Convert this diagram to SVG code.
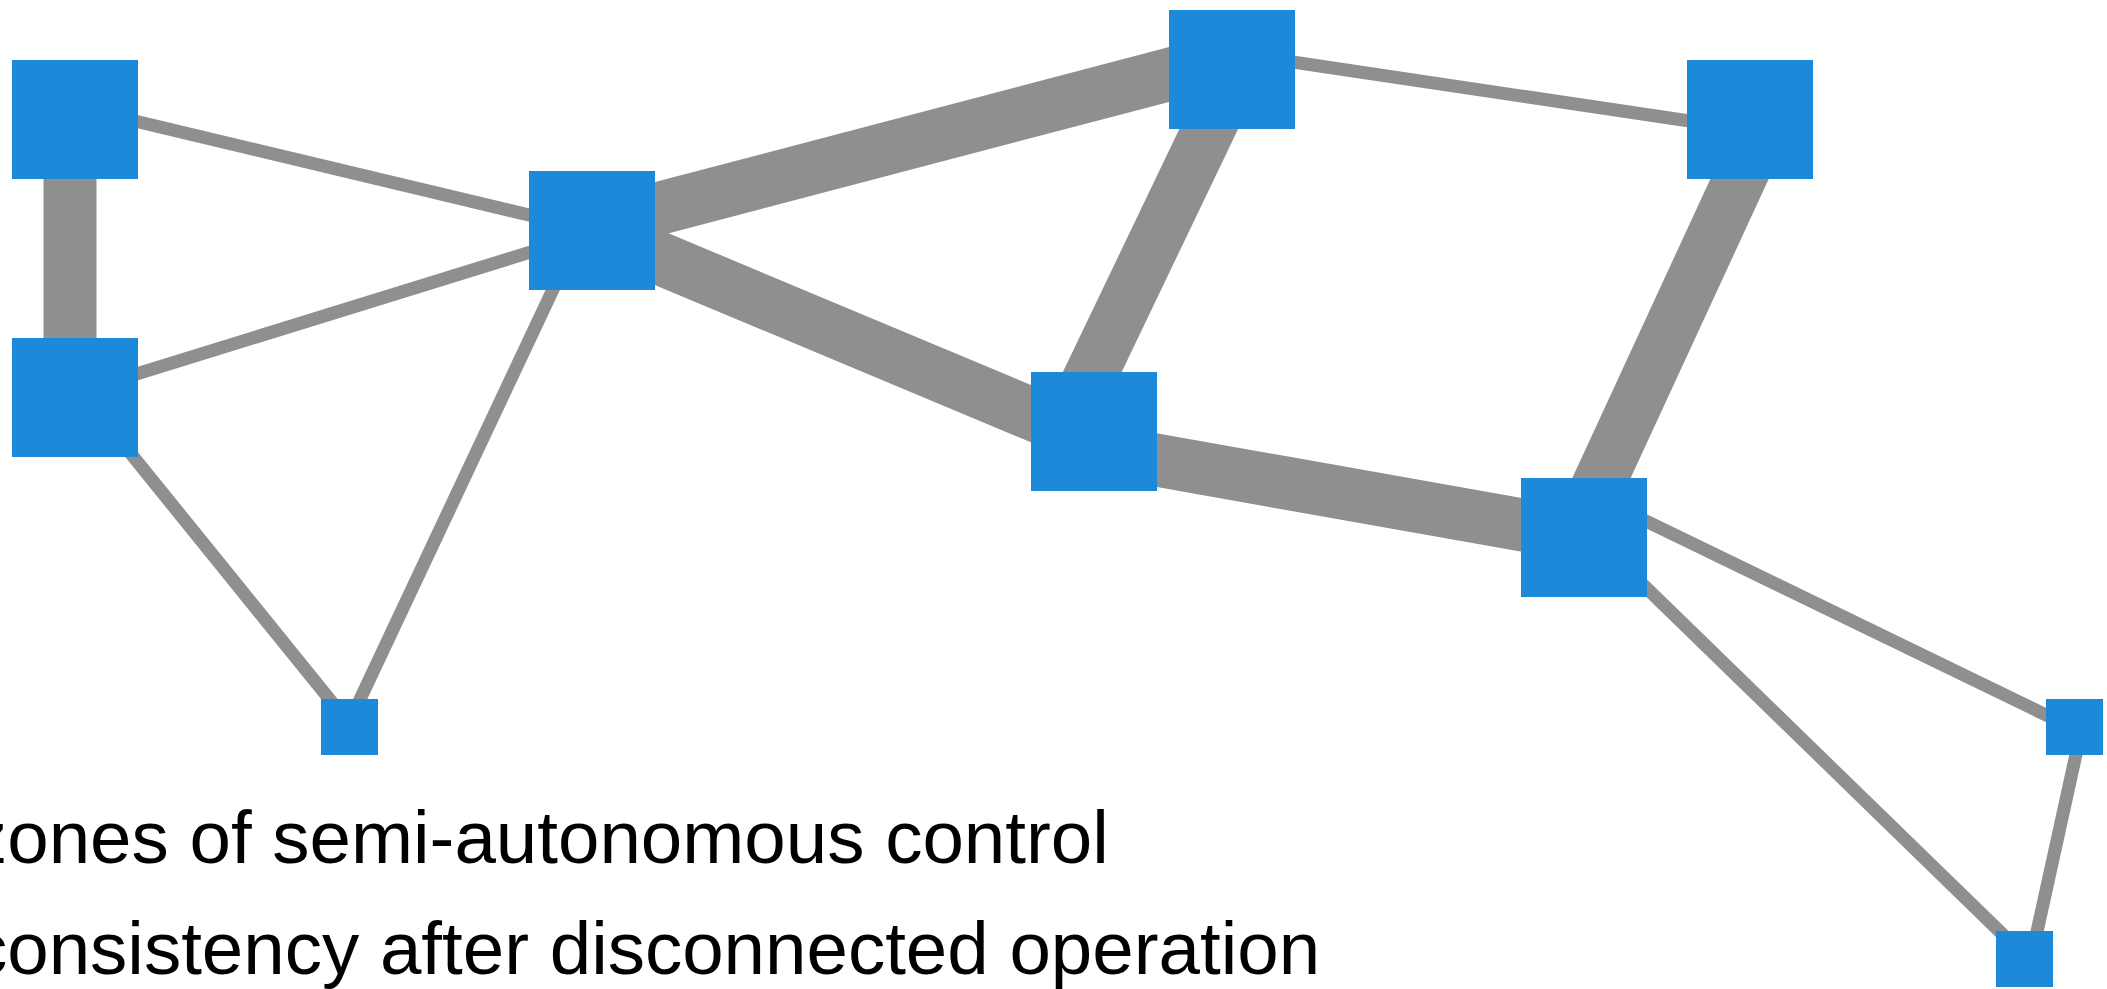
<svg xmlns="http://www.w3.org/2000/svg" width="2107" height="989" viewBox="0 0 2107 989">
<style>
.e{stroke:#8f8f8f;stroke-linecap:butt;fill:none}
.thin{stroke-width:13}
.thick{stroke-width:53}
.n{fill:#1c8ad9}
.t{font-family:"Liberation Sans",Arial,sans-serif;font-size:74.5px;fill:#000}
</style>
<rect width="2107" height="989" fill="#fff"/>
<g id="connectors">
<line class="e thick" x1="70" y1="119" x2="70" y2="397"/>
<line class="e thin" x1="75" y1="106.7" x2="592" y2="230"/>
<line class="e thin" x1="75" y1="393" x2="592" y2="233"/>
<line class="e thin" x1="581" y1="230" x2="347" y2="727"/>
<line class="e thin" x1="85" y1="397" x2="352" y2="727"/>
<line class="e thick" x1="592" y1="226" x2="1232" y2="58"/>
<line class="e thick" x1="592" y1="230" x2="1094" y2="440"/>
<line class="e thick" x1="1237" y1="70" x2="1064" y2="431"/>
<line class="e thin" x1="1232" y1="53" x2="1750" y2="130"/>
<line class="e thick" x1="1767" y1="119.5" x2="1574" y2="537.5"/>
<line class="e thick" x1="1094" y1="449" x2="1584" y2="536"/>
<line class="e thin" x1="1584" y1="491" x2="2075" y2="729"/>
<line class="e thin" x1="1594" y1="537" x2="2028" y2="959"/>
<line class="e thin" x1="2082" y1="727" x2="2031" y2="959"/>
</g>
<g id="node-a"><rect class="n" x="12" y="60" width="126" height="119"/></g>
<g id="node-b"><rect class="n" x="12" y="338" width="126" height="119"/></g>
<g id="node-c"><rect class="n" x="529" y="171" width="126" height="119"/></g>
<g id="node-d"><rect class="n" x="1169" y="10" width="126" height="119"/></g>
<g id="node-e"><rect class="n" x="1031" y="372" width="126" height="119"/></g>
<g id="node-f"><rect class="n" x="1687" y="60" width="126" height="119"/></g>
<g id="node-g"><rect class="n" x="1521" y="478" width="126" height="119"/></g>
<g id="node-h"><rect class="n" x="2046" y="699" width="57" height="56"/></g>
<g id="node-i"><rect class="n" x="1996" y="931" width="57" height="56"/></g>
<g id="node-j"><rect class="n" x="321" y="699" width="57" height="56"/></g>
<g id="labels">
<text class="t" x="-30" y="863">zones of semi-autonomous control</text>
<text class="t" x="-30" y="974">consistency after disconnected operation</text>
</g>
</svg>
